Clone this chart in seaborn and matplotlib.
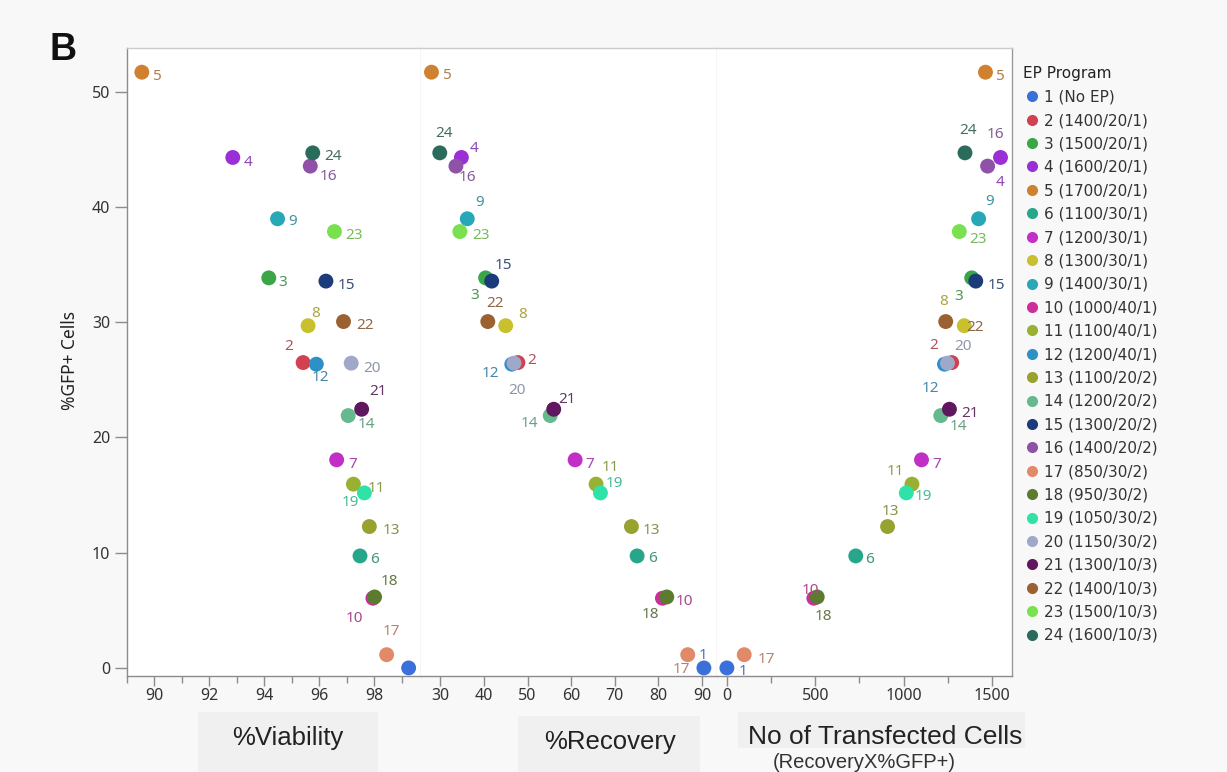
import matplotlib
matplotlib.use("Agg")
import matplotlib.pyplot as plt
from matplotlib.lines import Line2D
from matplotlib.patches import Rectangle
from matplotlib.ticker import MultipleLocator
from matplotlib.colors import to_rgb
import numpy as np
import pandas as pd
import seaborn as sns

# ---------------------------------------------------------------- data
program_ids = [str(i) for i in range(1, 25)]
program_names = [
    "1 (No EP)", "2 (1400/20/1)", "3 (1500/20/1)", "4 (1600/20/1)",
    "5 (1700/20/1)", "6 (1100/30/1)", "7 (1200/30/1)", "8 (1300/30/1)",
    "9 (1400/30/1)", "10 (1000/40/1)", "11 (1100/40/1)", "12 (1200/40/1)",
    "13 (1100/20/2)", "14 (1200/20/2)", "15 (1300/20/2)", "16 (1400/20/2)",
    "17 (850/30/2)", "18 (950/30/2)", "19 (1050/30/2)", "20 (1150/30/2)",
    "21 (1300/10/3)", "22 (1400/10/3)", "23 (1500/10/3)", "24 (1600/10/3)",
]
gfp_pct = [0.0, 26.5, 33.85, 44.3, 51.7, 9.72, 18.06, 29.7, 38.98, 6.05,
           15.95, 26.36, 12.27, 21.9, 33.57, 43.55, 1.15, 6.16, 15.19, 26.45,
           22.45, 30.06, 37.87, 44.7]
viability_pct = [99.25, 95.41, 94.16, 92.85, 89.54, 97.48, 96.63, 95.59,
                 94.48, 97.95, 97.24, 95.89, 97.82, 97.05, 96.24, 95.67,
                 98.45, 98.01, 97.64, 97.16, 97.54, 96.88, 96.55, 95.76]
recovery_pct = [90.4, 47.8, 40.4, 34.85, 28.0, 75.1, 60.9, 45.0, 36.2, 80.9,
                65.7, 46.4, 73.8, 55.2, 41.8, 33.6, 86.7, 81.9, 66.7, 46.9,
                56.0, 40.9, 34.5, 29.9]
transfected_cells = [0, 1272, 1385, 1548, 1463, 729, 1101, 1343, 1424, 492,
                     1047, 1231, 909, 1210, 1408, 1475, 98, 511, 1015, 1248,
                     1259, 1238, 1315, 1347]
program_colors = [
    "#3b6fd9", "#d1414f", "#3aa647", "#9a2fd6", "#d0812f", "#27a68a",
    "#c22fc6", "#c9c02e", "#27a8b6", "#c9309a", "#98b132", "#2f90c8",
    "#97a22f", "#66b98f", "#1b3b7a", "#8f52a8", "#e08a6a", "#5b7b2f",
    "#2fe3a8", "#9fa8c8", "#5f175f", "#9b6131", "#79e050", "#2b6b5b",
]

df = pd.DataFrame({
    "program": program_names,
    "pid": program_ids,
    "gfp": gfp_pct,
    "viability": viability_pct,
    "recovery": recovery_pct,
    "transfected": transfected_cells,
})
palette = dict(zip(program_names, program_colors))

# label placement (pixel offsets from each marker: right, down)
label_offsets = {
    "viability": {
        "1": None, "2": (-15, -16), "3": (14, 5), "4": (15, 5), "5": (16, 4),
        "6": (15, 4), "7": (16, 5), "8": (8, -12), "9": (15, 3),
        "10": (-19, 20), "11": (23, 4), "12": (4, 13), "13": (22, 4),
        "14": (18, 9), "15": (20, 4), "16": (18, 10), "17": (5, -23),
        "18": (15, -15), "19": (-14, 10), "20": (21, 5), "21": (16, -18),
        "22": (21, 4), "23": (20, 4), "24": (20, 4),
    },
    "recovery": {
        "1": (-1, -12), "2": (14, -2), "3": (-11, 18), "4": (13, -9),
        "5": (16, 3), "6": (15, 3), "7": (15, 5), "8": (17, -11),
        "9": (12, -16), "10": (22, 3), "11": (14, -17), "12": (-21, 9),
        "13": (20, 4), "14": (-21, 8), "15": (12, -16), "16": (12, 11),
        "17": (-6, 15), "18": (-16, 18), "19": (14, -9), "20": (3, 27),
        "21": (13, -10), "22": (7, -18), "23": (21, 4), "24": (4, -19),
    },
    "transfected": {
        "1": (16, 4), "2": (-18, -17), "3": (-13, 19), "4": (-1, 25),
        "5": (15, 4), "6": (14, 4), "7": (15, 5), "8": (-21, -24),
        "9": (11, -17), "10": (-3, -8), "11": (-17, -13), "12": (-14, 24),
        "13": (3, -15), "14": (18, 11), "15": (21, 4), "16": (8, -32),
        "17": (22, 5), "18": (6, 20), "19": (17, 4), "20": (16, -17),
        "21": (21, 4), "22": (29, 6), "23": (19, 8), "24": (3, -22),
    },
}


def muted(color, amount=0.35):
    r, g, b = to_rgb(color)
    grey = np.array([0.45, 0.45, 0.45])
    return tuple((1 - amount) * np.array([r, g, b]) + amount * grey)


# ---------------------------------------------------------------- figure
sns.set_theme(style="ticks")
plt.rcParams["font.family"] = ["Noto Sans", "DejaVu Sans"]

W, H = 1227, 772
fig = plt.figure(figsize=(W / 100, H / 100), dpi=100, facecolor="#f8f8f8")


def frac_box(x0, y0, x1, y1):
    return [x0 / W, 1 - y1 / H, (x1 - x0) / W, (y1 - y0) / H]


# shaded title boxes under the x axes
for (x0, y0, x1, y1) in [(198, 712, 378, 772), (518, 716, 700, 772),
                         (738, 712, 1025, 748)]:
    fig.patches.append(Rectangle((x0 / W, 1 - y1 / H), (x1 - x0) / W,
                                 (y1 - y0) / H, transform=fig.transFigure,
                                 facecolor="#f0f0f0", edgecolor="none",
                                 zorder=0))

panel_boxes = [(127, 48, 421, 676), (421, 48, 717, 676), (717, 48, 1012, 676)]
columns = ["viability", "recovery", "transfected"]
xlims = [(89.0, 99.7), (25.6, 93.4), (-56, 1613)]
axes = [fig.add_axes(frac_box(*b)) for b in panel_boxes]

for i, (ax, col) in enumerate(zip(axes, columns)):
    ax.set_facecolor("white")
    sns.scatterplot(data=df, x=col, y="gfp", hue="program", palette=palette,
                    s=115, linewidth=0, legend=False, ax=ax, zorder=3)
    for _, row in df.iterrows():
        off = label_offsets[col][row["pid"]]
        if off is None:
            continue
        ax.annotate(row["pid"], (row[col], row["gfp"]),
                    xytext=(off[0], -off[1]), textcoords="offset pixels",
                    ha="center", va="center", fontsize=11,
                    color=muted(palette[row["program"]]), zorder=4)
    ax.set_xlim(*xlims[i])
    ax.set_ylim(-0.7, 53.8)
    ax.set_xlabel("")
    ax.set_ylabel("")
    for side in ["top", "right", "left", "bottom"]:
        ax.spines[side].set_color("#cccccc")
        ax.spines[side].set_linewidth(1.0)
    ax.spines["bottom"].set_color("#8c8c8c")
    ax.tick_params(axis="x", which="major", direction="out", length=7,
                   width=1, color="#8c8c8c", labelsize=11.5,
                   labelcolor="#333333", pad=1.5)
    ax.tick_params(axis="x", which="minor", direction="out", length=5,
                   width=1, color="#8c8c8c")
    if i == 0:
        ax.spines["left"].set_color("#8c8c8c")
        ax.tick_params(axis="y", direction="out", length=9, width=1,
                       color="#8c8c8c", labelsize=11.5, labelcolor="#333333",
                       pad=3)
        ax.yaxis.set_major_locator(MultipleLocator(10))
    else:
        ax.spines["left"].set_visible(False)
        ax.tick_params(axis="y", left=False, labelleft=False)
    if i == 2:
        ax.spines["right"].set_color("#999999")

axes[0].xaxis.set_major_locator(MultipleLocator(2))
axes[0].xaxis.set_minor_locator(MultipleLocator(1))
axes[1].xaxis.set_major_locator(MultipleLocator(10))
axes[2].xaxis.set_major_locator(MultipleLocator(500))
axes[2].xaxis.set_minor_locator(MultipleLocator(250))

# axis titles
title_font = ["Liberation Sans", "DejaVu Sans"]
fig.text(70 / W, 1 - 360 / H, "%GFP+ Cells", rotation=90, ha="center",
         va="center", fontsize=12.5, color="#222222")
fig.text(288 / W, 1 - 738 / H, "%Viability", ha="center", va="center",
         fontsize=18.5, color="#222222", family=title_font)
fig.text(610 / W, 1 - 742 / H, "%Recovery", ha="center", va="center",
         fontsize=18.5, color="#222222", family=title_font)
fig.text(885 / W, 1 - 737 / H, "No of Transfected Cells", ha="center",
         va="center", fontsize=19, color="#222222", family=title_font)
fig.text(864 / W, 1 - 762 / H, "(RecoveryX%GFP+)", ha="center",
         va="center", fontsize=14.5, color="#333333", family=title_font)
fig.text(50 / W, 1 - 50 / H, "B", ha="left", va="center", fontsize=27,
         weight="bold", color="#111111", family=title_font)

# legend
handles = [Line2D([], [], marker="o", linestyle="none", markersize=8,
                  markerfacecolor=c, markeredgewidth=0) for c in program_colors]
leg = axes[2].legend(handles, program_names, title="EP Program",
                     loc="upper left", bbox_to_anchor=(1.0, 0.988),
                     frameon=False, prop={"family": "DejaVu Sans", "size": 11},
                     title_fontproperties={"family": "DejaVu Sans", "size": 11},
                     labelspacing=0.55, handletextpad=0.2,
                     handlelength=1.2, borderaxespad=0.3, alignment="left")
for t in leg.get_texts():
    t.set_color("#333333")
leg.get_title().set_color("#222222")

fig.savefig("out.png", dpi=100, facecolor=fig.get_facecolor())
